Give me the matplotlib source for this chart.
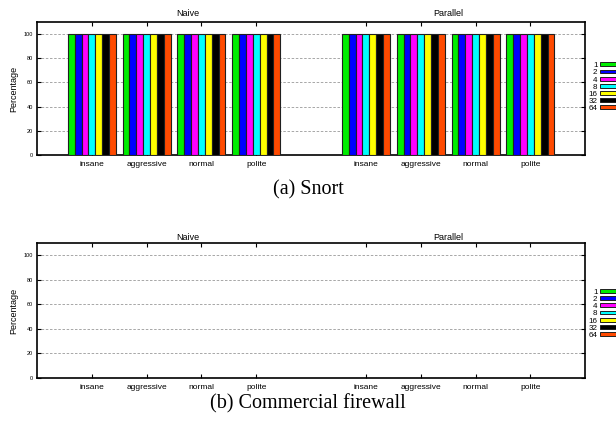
import matplotlib.pyplot as plt
from matplotlib.patches import Patch

# Scan types, repeated for the Naive and Parallel halves of each panel
scan_types = ['insane', 'aggressive', 'normal', 'polite']
modes = ['Naive', 'Parallel']
threads = ['1', '2', '4', '8', '16', '32', '64']
colors = ['#00ee00', '#0000ff', '#ff00ff', '#00ffff', '#ffff00', '#000000', '#ff4a00']

# Detection percentage per thread count, for each mode and scan type
snort_naive = [[100, 100, 100, 100]] * 7
snort_parallel = [[100, 100, 100, 100]] * 7
firewall_naive = [[0, 0, 0, 0]] * 7
firewall_parallel = [[0, 0, 0, 0]] * 7

plt.rcParams['font.family'] = ['Liberation Sans', 'DejaVu Sans']

fig = plt.figure(figsize=(6.16, 4.23), dpi=100)

# category positions: Naive at 0..3, Parallel at 5..8
naive_x = [0, 1, 2, 3]
parallel_x = [5, 6, 7, 8]
bar_w = 0.125


def draw_panel(ax, naive, parallel, title_pad, legend_y):
    for i in range(len(threads)):
        off = (i - 3) * bar_w
        ax.bar([x + off for x in naive_x], naive[i], width=bar_w,
               color=colors[i], edgecolor='#202020', linewidth=0.8, zorder=3)
        ax.bar([x + off for x in parallel_x], parallel[i], width=bar_w,
               color=colors[i], edgecolor='#202020', linewidth=0.8, zorder=3)
    ax.set_xlim(-1, 9)
    ax.set_ylim(0, 110)
    ax.set_yticks([0, 20, 40, 60, 80, 100])
    ax.set_xticks(naive_x + parallel_x)
    ax.set_xticklabels(scan_types + scan_types, fontsize=6)
    ax.tick_params(axis='y', labelsize=4, length=3, width=0.8, direction='in',
                   right=True, pad=3)
    ax.tick_params(axis='x', length=3, width=0.8, direction='in', top=True, pad=4)
    ax.grid(axis='y', linestyle=(0, (3, 2)), color='#999999', linewidth=0.6)
    ax.set_axisbelow(True)
    for s in ax.spines.values():
        s.set_linewidth(1.2)
    ax.set_ylabel('Percentage', fontsize=6.5, labelpad=4)
    ax.text(1.75, 110 + title_pad, modes[0], fontsize=6.5, ha='center', va='bottom')
    ax.text(6.5, 110 + title_pad, modes[1], fontsize=6.5, ha='center', va='bottom')
    handles = [Patch(facecolor=c, edgecolor='#202020', linewidth=0.7) for c in colors]
    ax.legend(handles, threads, loc='center left', bbox_to_anchor=(1.006, legend_y),
              frameon=False, fontsize=5.8, markerfirst=False, handlelength=3.2,
              handleheight=0.35, labelspacing=0.02, handletextpad=0.3,
              borderpad=0, borderaxespad=0)


ax1 = fig.add_axes([0.060, 0.6336, 0.890, 0.3144])
draw_panel(ax1, snort_naive, snort_parallel, 3.5, 0.51)
fig.text(0.5, 1 - 190 / 423, '(a) Snort', fontsize=14.5, family='Liberation Serif',
         ha='center', va='center')

ax2 = fig.add_axes([0.060, 0.1064, 0.890, 0.3191])
draw_panel(ax2, firewall_naive, firewall_parallel, 1.0, 0.475)
fig.text(0.5, 1 - 404 / 423, '(b) Commercial firewall', fontsize=14.5,
         family='Liberation Serif', ha='center', va='center')

fig.savefig('out.png', dpi=100)
